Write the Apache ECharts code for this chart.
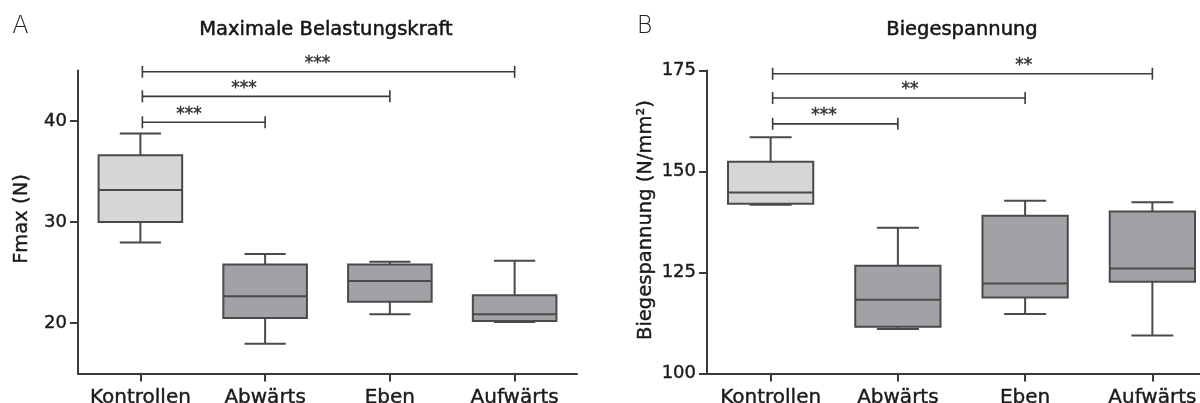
<!DOCTYPE html>
<html>
<head>
<meta charset="utf-8">
<title>Maximale Belastungskraft / Biegespannung</title>
<script src="https://cdn.jsdelivr.net/npm/echarts@6/dist/echarts.min.js"></script>
<style>
  html, body { margin: 0; padding: 0; background: #fff; }
  #chart { width: 1200px; height: 403px; }
</style>
</head>
<body>
<div id="chart"></div>
<script>
// Groups shown on both panels
const categories = ['Kontrollen', 'Abwärts', 'Eben', 'Aufwärts'];

// Box statistics per group: [min, Q1, median, Q3, max]
const fmaxStats = [
  [27.97, 30.0, 33.17, 36.6, 38.77],
  [17.94, 20.5, 22.64, 25.8, 26.84],
  [20.87, 22.1, 24.17, 25.8, 26.07],
  [20.1, 20.2, 20.87, 22.74, 26.17]
];
const biegeStats = [
  [141.8, 142.0, 144.8, 152.4, 158.5],
  [111.0, 111.56, 118.24, 126.66, 136.1],
  [114.7, 118.8, 122.28, 139.03, 142.75],
  [109.4, 122.7, 126.0, 140.1, 142.4]
];

// Axis ranges and ticks
const fmaxRange = [15, 45];
const fmaxTicks = [20, 30, 40];
const biegeRange = [100, 175];
const biegeTicks = [100, 125, 150, 175];

// Significance brackets: [fromGroup, toGroup, level, marker position (group units)]
const fmaxBrackets = [[0, 1, 39.87, 0.39], [0, 2, 42.44, 0.83], [0, 3, 44.87, 1.42]];
const fmaxStars = ['***', '***', '***'];
const biegeBrackets = [[0, 1, 161.8, 0.42], [0, 2, 168.2, 1.095], [0, 3, 174.2, 1.99]];
const biegeStars = ['***', '**', '**'];

const FONT = '"DejaVu Sans", "Liberation Sans", Arial, sans-serif';
const INK = '#1a1a1a';
const LINE = '#3a3a3a';
const CONTROL_FILL = '#d6d6d6';
const GROUP_FILL = '#a2a1a6';
const BOX_STROKE = '#4a4a4a';

function boxRenderer(params, api) {
  const idx = api.value(0);
  const mn = api.value(1), q1 = api.value(2), md = api.value(3), q3 = api.value(4), mx = api.value(5);
  const band = api.size([1, 0])[0];
  const boxW = band * 0.67;
  const capW = band * 0.33;
  const cx = api.coord([idx, md])[0];
  const yMin = api.coord([idx, mn])[1];
  const yQ1 = api.coord([idx, q1])[1];
  const yMd = api.coord([idx, md])[1];
  const yQ3 = api.coord([idx, q3])[1];
  const yMax = api.coord([idx, mx])[1];
  const lineStyle = { stroke: BOX_STROKE, lineWidth: 2, fill: null };
  return {
    type: 'group',
    children: [
      { type: 'line', shape: { x1: cx, y1: yQ3, x2: cx, y2: yMax }, style: lineStyle },
      { type: 'line', shape: { x1: cx, y1: yQ1, x2: cx, y2: yMin }, style: lineStyle },
      { type: 'line', shape: { x1: cx - capW / 2, y1: yMax, x2: cx + capW / 2, y2: yMax }, style: lineStyle },
      { type: 'line', shape: { x1: cx - capW / 2, y1: yMin, x2: cx + capW / 2, y2: yMin }, style: lineStyle },
      {
        type: 'rect',
        shape: { x: cx - boxW / 2, y: yQ3, width: boxW, height: yQ1 - yQ3 },
        style: { fill: idx === 0 ? CONTROL_FILL : GROUP_FILL, stroke: BOX_STROKE, lineWidth: 2 }
      },
      { type: 'line', shape: { x1: cx - boxW / 2, y1: yMd, x2: cx + boxW / 2, y2: yMd }, style: lineStyle }
    ]
  };
}

function bracketRenderer(stars) {
  return function (params, api) {
    const from = api.value(0), to = api.value(1), level = api.value(2), at = api.value(3);
    const band = api.size([1, 0])[0];
    const p0 = api.coord([from, level]);
    const p1 = api.coord([to, level]);
    const x0 = p0[0] + 2, x1 = p1[0], y = p0[1];
    const lx = p0[0] + at * band;
    const st = { stroke: LINE, lineWidth: 1.6, fill: null };
    return {
      type: 'group',
      children: [
        { type: 'line', shape: { x1: x0, y1: y, x2: x1, y2: y }, style: st },
        { type: 'line', shape: { x1: x0, y1: y - 6, x2: x0, y2: y + 6 }, style: st },
        { type: 'line', shape: { x1: x1, y1: y - 6, x2: x1, y2: y + 6 }, style: st },
        {
          type: 'text',
          x: lx, y: y - 8,
          style: {
            text: stars[params.dataIndex], font: '17px ' + FONT, fill: '#2e2e2e',
            stroke: '#2e2e2e', lineWidth: 0.4, align: 'center', verticalAlign: 'middle'
          }
        }
      ]
    };
  };
}

function catAxis(gridIndex) {
  return {
    type: 'category',
    gridIndex: gridIndex,
    data: categories,
    boundaryGap: true,
    axisLine: { show: true, lineStyle: { color: LINE, width: 2 } },
    axisTick: { show: true, alignWithLabel: true, interval: 0, length: 8, lineStyle: { color: LINE, width: 2 } },
    axisLabel: {
      interval: 0, margin: 14, fontFamily: FONT, fontSize: 20, color: INK, hideOverlap: false,
      textBorderColor: INK, textBorderWidth: 0.4
    },
    splitLine: { show: false }
  };
}

function valAxis(gridIndex, range, ticks) {
  return {
    type: 'value',
    gridIndex: gridIndex,
    min: range[0],
    max: range[1],
    axisLine: { show: true, lineStyle: { color: LINE, width: 2 } },
    axisTick: { show: true, length: 8, customValues: ticks, lineStyle: { color: LINE, width: 2 } },
    axisLabel: {
      margin: 11, customValues: ticks, fontFamily: FONT, fontSize: 18, color: INK,
      textBorderColor: INK, textBorderWidth: 0.4
    },
    splitLine: { show: false }
  };
}

const chart = echarts.init(document.getElementById('chart'), null, { renderer: 'canvas' });

const fmaxData = fmaxStats.map((s, i) => [i].concat(s));
const biegeData = biegeStats.map((s, i) => [i].concat(s));

const titleStyle = { font: '19.5px ' + FONT, fill: '#151515', stroke: '#151515', lineWidth: 0.5, align: 'center', verticalAlign: 'middle' };
const axisNameStyle = { font: '19.5px ' + FONT, fill: INK, stroke: INK, lineWidth: 0.4, align: 'center', verticalAlign: 'middle' };
const panelStyle = { font: '200 24px ' + FONT, fill: '#222', align: 'center', verticalAlign: 'middle' };

chart.setOption({
  backgroundColor: '#ffffff',
  animation: false,
  grid: [
    { left: 78, top: 70.5, width: 499, height: 303, containLabel: false, outerBoundsMode: 'none' },
    { left: 707, top: 70.5, width: 509, height: 303, containLabel: false, outerBoundsMode: 'none' }
  ],
  xAxis: [catAxis(0), catAxis(1)],
  yAxis: [valAxis(0, fmaxRange, fmaxTicks), valAxis(1, biegeRange, biegeTicks)],
  series: [
    {
      type: 'custom', name: 'Fmax', xAxisIndex: 0, yAxisIndex: 0,
      data: fmaxData, encode: { x: 0, y: [1, 2, 3, 4, 5] },
      renderItem: boxRenderer, clip: false, z: 2
    },
    {
      type: 'custom', name: 'Biegespannung', xAxisIndex: 1, yAxisIndex: 1,
      data: biegeData, encode: { x: 0, y: [1, 2, 3, 4, 5] },
      renderItem: boxRenderer, clip: false, z: 2
    },
    {
      type: 'custom', name: 'Fmax Signifikanz', xAxisIndex: 0, yAxisIndex: 0,
      data: fmaxBrackets, encode: { x: [0, 1], y: 2 },
      renderItem: bracketRenderer(fmaxStars), clip: false, z: 3
    },
    {
      type: 'custom', name: 'Biegespannung Signifikanz', xAxisIndex: 1, yAxisIndex: 1,
      data: biegeBrackets, encode: { x: [0, 1], y: 2 },
      renderItem: bracketRenderer(biegeStars), clip: false, z: 3
    }
  ],
  graphic: [
    { type: 'text', x: 20.5, y: 27, style: Object.assign({ text: 'A' }, panelStyle) },
    { type: 'text', x: 326, y: 30, style: Object.assign({ text: 'Maximale Belastungskraft' }, titleStyle) },
    { type: 'text', x: 22, y: 219, rotation: Math.PI / 2, style: Object.assign({ text: 'Fmax (N)' }, axisNameStyle) },
    { type: 'text', x: 644.5, y: 27, style: Object.assign({ text: 'B' }, panelStyle) },
    { type: 'text', x: 962, y: 30, style: Object.assign({ text: 'Biegespannung' }, titleStyle) },
    { type: 'text', x: 646, y: 220, rotation: Math.PI / 2, style: Object.assign({ text: 'Biegespannung (N/mm²)' }, axisNameStyle) }
  ]
});
</script>
</body>
</html>
